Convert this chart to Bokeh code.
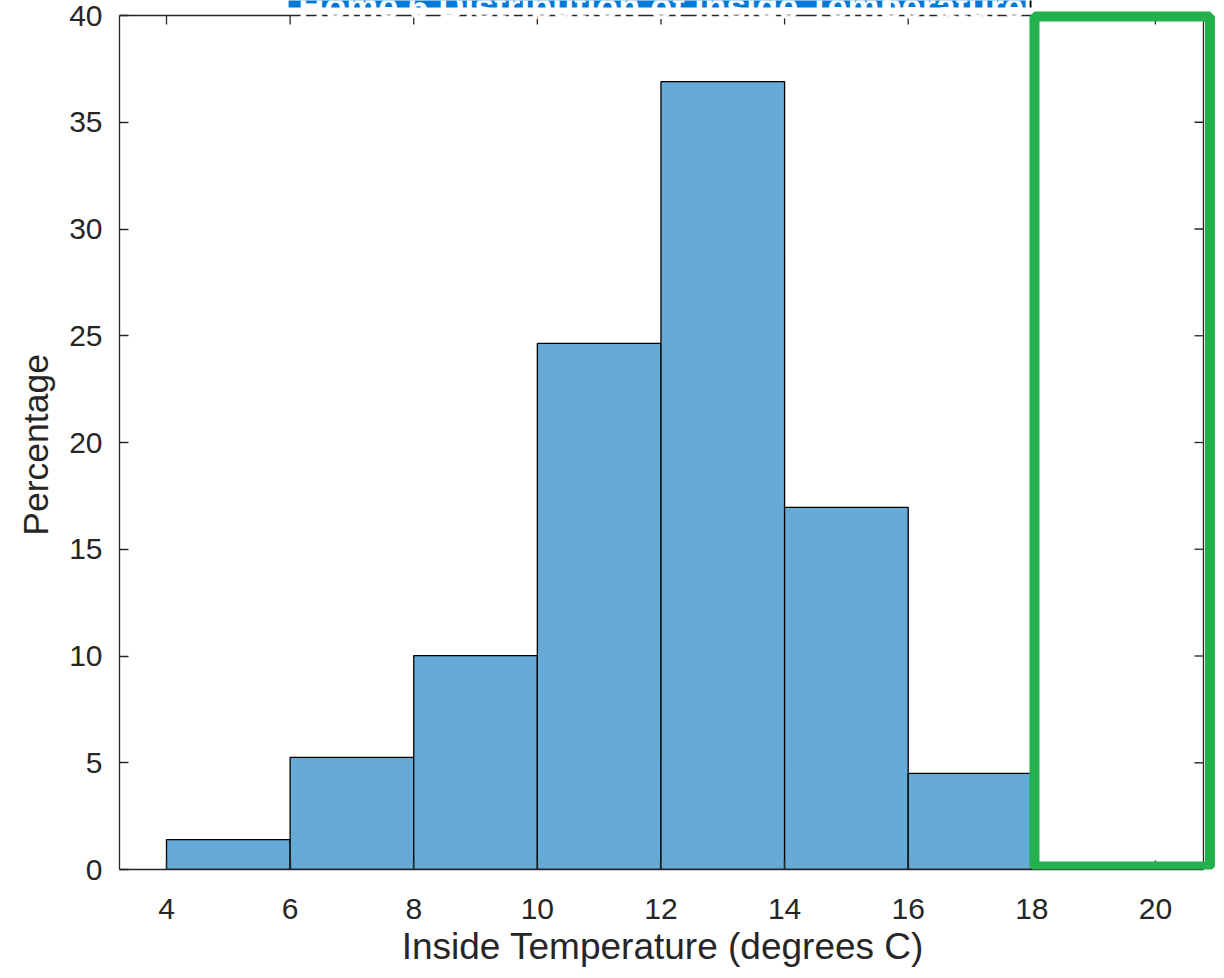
from bokeh.plotting import figure
from bokeh.models import Range1d, FixedTicker, BoxAnnotation, Label
from bokeh.embed import file_html
from bokeh.resources import INLINE

# ---- data ----
bin_left = [4, 6, 8, 10, 12, 14, 16]
bin_right = [6, 8, 10, 12, 14, 16, 18]
percentages = [1.4, 5.25, 10.02, 24.64, 36.9, 16.96, 4.5]
x_ticks = [4, 6, 8, 10, 12, 14, 16, 18, 20]
y_ticks = [0, 5, 10, 15, 20, 25, 30, 35, 40]
title_text = "Home 6 Distribution of Inside Temperature"
x_label = "Inside Temperature (degrees C)"
y_label = "Percentage"
# axes limits (MATLAB axes box)
x_min, x_max = 3.2396, 20.777
y_min, y_max = 0, 40
# green highlight box (data coordinates)
hl_left, hl_right, hl_bottom, hl_top = 18.043, 20.882, 0.14, 39.953

FONT = "Liberation Sans"
AX = "#262626"
PX_X = 61.81   # pixels per x unit
PX_Y = 21.35   # pixels per y unit

p = figure(width=1216, height=978, output_backend="svg", toolbar_location=None,
           x_range=Range1d(x_min, 20.988), y_range=Range1d(y_min, 40.7026),
           min_border_left=119, min_border_right=0, min_border_top=0,
           min_border_bottom=109, background_fill_color="white",
           border_fill_color="white")
p.xgrid.visible = False
p.ygrid.visible = False
p.outline_line_color = None

p.quad(left=bin_left, right=bin_right, bottom=0, top=percentages,
       fill_color="#66AAD7", line_color="black", line_width=1.3)

xax = p.below[0]
yax = p.left[0]
for ax, ticks in ((xax, x_ticks), (yax, y_ticks)):
    ax.ticker = FixedTicker(ticks=ticks)
    ax.axis_line_color = AX
    ax.axis_line_width = 1.3
    ax.major_tick_line_color = AX
    ax.major_tick_line_width = 1.3
    ax.major_tick_in = 9
    ax.major_tick_out = 0
    ax.minor_tick_line_color = None
    ax.major_label_text_font = FONT
    ax.major_label_text_color = AX
    ax.major_label_text_font_size = "30px"
    ax.axis_label_text_font = FONT
    ax.axis_label_text_font_style = "normal"
    ax.axis_label_text_color = AX
xax.bounds = (x_min, x_max)
yax.bounds = (y_min, y_max)
xax.major_label_standoff = 29
yax.major_label_standoff = 17
# trailing no-break spaces re-centre the titles on the axes box
xax.axis_label = x_label + "\u00a0"
yax.axis_label = y_label + "\u00a0\u00a0"
xax.axis_label_text_font_size = "37px"
yax.axis_label_text_font_size = "35.5px"
xax.axis_label_standoff = 4
yax.axis_label_standoff = 10

# top and right edges of the axes box, with inward ticks
p.segment(x0=[x_min, x_max], y0=[y_max, y_min], x1=[x_max, x_max], y1=[y_max, y_max],
          line_color=AX, line_width=1.3)
p.segment(x0=x_ticks, y0=[y_max] * len(x_ticks), x1=x_ticks,
          y1=[y_max - 9 / PX_Y] * len(x_ticks), line_color=AX, line_width=1.3)
p.segment(x0=[x_max] * len(y_ticks), y0=y_ticks, x1=[x_max - 9 / PX_X] * len(y_ticks),
          y1=y_ticks, line_color=AX, line_width=1.3)

# cropped, highlighted title at the top
p.add_layout(BoxAnnotation(left=5.975, right=15.63, bottom=40.375, top=41.5,
                           fill_color="#0078D7", fill_alpha=1, line_color=None))
p.add_layout(BoxAnnotation(left=15.72, right=17.90, bottom=40.375, top=41.5,
                           fill_color="#0078D7", fill_alpha=1, line_color=None))
p.add_layout(BoxAnnotation(left=17.965, right=17.995, bottom=40.375, top=41.5,
                           fill_color="black", fill_alpha=1, line_color=None))
p.add_layout(Label(x=12.0, y=40.42, text=title_text, text_align="center",
                   text_baseline="alphabetic", text_font=FONT,
                   text_font_size="36px", text_font_style="bold",
                   text_color="white"))

# green highlight box
p.add_layout(BoxAnnotation(left=hl_left, right=hl_right, bottom=hl_bottom, top=hl_top,
                           fill_color=None, fill_alpha=0, line_color="#22B14C",
                           line_width=10, line_alpha=1))

open("out.html", "w").write(file_html(p, INLINE))
